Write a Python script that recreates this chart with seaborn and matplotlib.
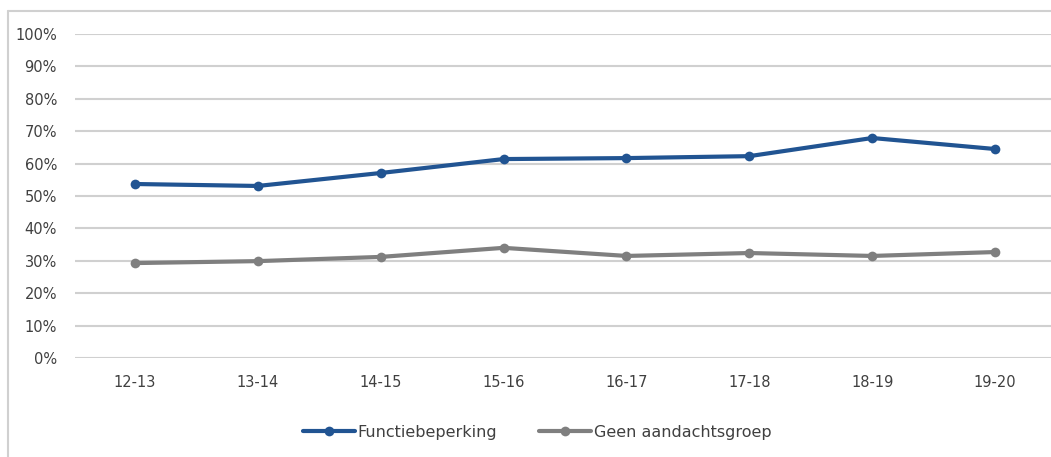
import numpy as np
import pandas as pd
import matplotlib
matplotlib.use('Agg')
import matplotlib.pyplot as plt
from matplotlib.lines import Line2D
from matplotlib.ticker import PercentFormatter
import seaborn as sns

years = ['12-13', '13-14', '14-15', '15-16', '16-17', '17-18', '18-19', '19-20']
functiebeperking = [53.7, 53.1, 57.1, 61.4, 61.7, 62.3, 67.9, 64.5]
geen_aandachtsgroep = [29.3, 29.9, 31.2, 34.0, 31.5, 32.4, 31.5, 32.7]
series = ['Functiebeperking', 'Geen aandachtsgroep']
colors = {'Functiebeperking': '#215492', 'Geen aandachtsgroep': '#7f7f7f'}

df = pd.DataFrame({
    'jaar': years * 2,
    'waarde': np.array(functiebeperking + geen_aandachtsgroep) / 100,
    'groep': [series[0]] * len(years) + [series[1]] * len(years),
})

sns.set_style('white')
plt.rcParams['font.family'] = ['DejaVu Sans']
text_col = '#404040'

fig = plt.figure(figsize=(10.51, 4.57), dpi=100)
ax = fig.add_axes([75 / 1051, 99 / 457, (1051 - 75) / 1051, 324 / 457])

sns.lineplot(data=df, x='jaar', y='waarde', hue='groep', palette=colors,
             marker='o', markersize=7, markeredgewidth=0, linewidth=3,
             ax=ax, legend=False, sort=False)

ax.set_ylim(0, 1)
ax.set_xlim(-(135 - 75) / 123, 7 + (1051 - 995) / 123)
ax.set_yticks(np.arange(0, 1.01, 0.1))
ax.yaxis.set_major_formatter(PercentFormatter(1.0, decimals=0))
ax.grid(axis='y', color='#d0d0d0', linewidth=1.5)
ax.set_axisbelow(True)
for s in ax.spines.values():
    s.set_visible(False)
ax.tick_params(axis='both', length=0, labelsize=10.5, labelcolor=text_col)
ax.tick_params(axis='y', pad=13)
ax.tick_params(axis='x', pad=12)
ax.set_xlabel('')
ax.set_ylabel('')

# legend below the plot
handles = [Line2D([], [], color=colors[s], lw=3, marker='o', markersize=7,
                  markeredgewidth=0) for s in series]
fig.legend(handles, series, loc='center', bbox_to_anchor=(537 / 1051, 1 - 432 / 457),
           ncol=2, frameon=False, fontsize=11.5, labelcolor=text_col,
           handlelength=3.3, handletextpad=0.15, columnspacing=2.6)

# chart frame
fig.add_artist(Line2D([8 / 1051, 1], [1 - 11 / 457] * 2, color='#d0d0d0', lw=1.5))
fig.add_artist(Line2D([8 / 1051] * 2, [0, 1 - 11 / 457], color='#d0d0d0', lw=1.5))

fig.savefig('out.png', dpi=100)
